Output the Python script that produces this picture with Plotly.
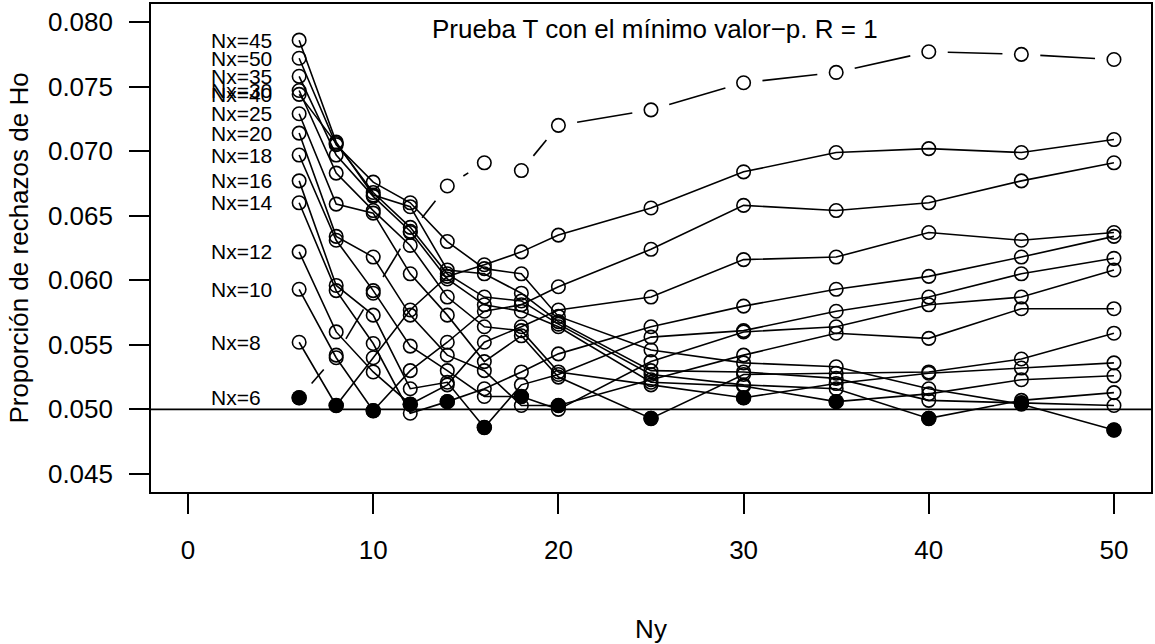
import math
import plotly.graph_objects as go

# ---------------- data ----------------
ny = [6, 8, 10, 12, 14, 16, 18, 20, 25, 30, 35, 40, 45, 50]

p_nx6 = [0.0509, 0.0542, 0.0590, 0.0637, 0.0673, 0.0691, 0.0685, 0.0720, 0.0732, 0.0753, 0.0761, 0.0777, 0.0775, 0.0771]
p_nx8 = [0.0552, 0.0503, 0.0540, 0.0577, 0.0603, 0.0612, 0.0622, 0.0635, 0.0656, 0.0684, 0.0699, 0.0702, 0.0699, 0.0709]
p_nx10 = [0.0593, 0.0540, 0.0499, 0.0530, 0.0552, 0.0576, 0.0581, 0.0595, 0.0624, 0.0658, 0.0654, 0.0660, 0.0677, 0.0691]
p_nx12 = [0.0622, 0.0560, 0.0529, 0.0504, 0.0519, 0.0552, 0.0564, 0.0577, 0.0587, 0.0616, 0.0618, 0.0637, 0.0631, 0.0637]
p_nx14 = [0.0660, 0.0592, 0.0551, 0.0497, 0.0506, 0.0516, 0.0529, 0.0543, 0.0564, 0.0580, 0.0593, 0.0603, 0.0618, 0.0634]
p_nx16 = [0.0677, 0.0596, 0.0573, 0.0516, 0.0521, 0.0486, 0.0519, 0.0527, 0.0556, 0.0561, 0.0576, 0.0587, 0.0605, 0.0617]
p_nx18 = [0.0697, 0.0631, 0.0592, 0.0549, 0.0530, 0.0510, 0.0510, 0.0500, 0.0537, 0.0560, 0.0564, 0.0581, 0.0587, 0.0608]
p_nx20 = [0.0714, 0.0634, 0.0618, 0.0573, 0.0542, 0.0530, 0.0503, 0.0503, 0.0523, 0.0542, 0.0559, 0.0555, 0.0578, 0.0578]
p_nx25 = [0.0729, 0.0659, 0.0652, 0.0605, 0.0573, 0.0537, 0.0557, 0.0525, 0.0493, 0.0527, 0.0528, 0.0529, 0.0539, 0.0559]
p_nx30 = [0.0747, 0.0683, 0.0654, 0.0627, 0.0587, 0.0564, 0.0561, 0.0529, 0.0519, 0.0509, 0.0520, 0.0528, 0.0532, 0.0536]
p_nx35 = [0.0758, 0.0697, 0.0665, 0.0638, 0.0601, 0.0581, 0.0576, 0.0564, 0.0521, 0.0518, 0.0506, 0.0512, 0.0523, 0.0526]
p_nx40 = [0.0744, 0.0706, 0.0668, 0.0641, 0.0605, 0.0587, 0.0584, 0.0566, 0.0527, 0.0519, 0.0516, 0.0493, 0.0507, 0.0513]
p_nx45 = [0.0786, 0.0707, 0.0666, 0.0657, 0.0608, 0.0605, 0.0590, 0.0568, 0.0530, 0.0529, 0.0524, 0.0507, 0.0505, 0.0503]
p_nx50 = [0.0772, 0.0705, 0.0676, 0.0660, 0.0630, 0.0609, 0.0605, 0.0572, 0.0546, 0.0536, 0.0533, 0.0516, 0.0504, 0.0484]

# balanced designs (Nx = Ny), drawn as filled points
p_diag = [0.0509, 0.0503, 0.0499, 0.0504, 0.0506, 0.0486, 0.0510, 0.0503, 0.0493, 0.0509, 0.0506, 0.0493, 0.0505, 0.0484]

nx_values = [6, 8, 10, 12, 14, 16, 18, 20, 25, 30, 35, 40, 45, 50]
x_ticks = [0, 10, 20, 30, 40, 50]
y_ticks = [0.045, 0.050, 0.055, 0.060, 0.065, 0.070, 0.075, 0.080]
y_ticktext = ["0.045", "0.050", "0.055", "0.060", "0.065", "0.070", "0.075", "0.080"]
alpha = 0.05

title_text = "Prueba T con el mínimo valor\u2212p. R = 1"
x_title = "Ny"
y_title = "Proporción de rechazos de Ho"

series = {
    6: p_nx6, 8: p_nx8, 10: p_nx10, 12: p_nx12, 14: p_nx14, 16: p_nx16, 18: p_nx18,
    20: p_nx20, 25: p_nx25, 30: p_nx30, 35: p_nx35, 40: p_nx40, 45: p_nx45, 50: p_nx50,
}

# ---------------- layout geometry ----------------
W, H = 1155, 644
ML, MR, MT, MB = 151, 2, 3, 152
X0, X1 = -2.0, 52.0
Y0, Y1 = 0.0436, 0.0814
PW = W - ML - MR
PH = H - MT - MB
sx = PW / (X1 - X0)
sy = PH / (Y1 - Y0)

FONT = "Liberation Sans, Arial, Helvetica, sans-serif"
LW = 1.6
MS = 13.5
GAP = 19  # px gap around points for the type="b" series

fig = go.Figure()

# Nx=6 series: line with gaps around points (type = "b")
gx, gy = [], []
p = series[6]
for i in range(len(ny) - 1):
    dxp = (ny[i + 1] - ny[i]) * sx
    dyp = (p[i + 1] - p[i]) * sy
    L = math.hypot(dxp, dyp)
    if L > 2 * GAP:
        ux, uy = dxp / L, dyp / L
        gx += [ny[i] + ux * GAP / sx, ny[i + 1] - ux * GAP / sx, None]
        gy += [p[i] + uy * GAP / sy, p[i + 1] - uy * GAP / sy, None]
fig.add_trace(go.Scatter(x=gx, y=gy, mode="lines",
                         line=dict(color="black", width=LW), hoverinfo="skip"))
fig.add_trace(go.Scatter(x=ny, y=p, mode="markers",
                         marker=dict(symbol="circle-open", size=MS, color="black",
                                     line=dict(width=LW, color="black"))))

# other series (type = "o")
for n in nx_values[1:]:
    fig.add_trace(go.Scatter(
        x=ny, y=series[n], mode="lines+markers",
        line=dict(color="black", width=LW),
        marker=dict(symbol="circle-open", size=MS, color="black",
                    line=dict(width=LW, color="black")),
    ))

# filled points for Nx = Ny
fig.add_trace(go.Scatter(x=ny, y=p_diag, mode="markers",
                         marker=dict(symbol="circle", size=15.5, color="black",
                                     line=dict(width=0))))

# labels Nx=.. left-aligned, at the height of the first points
annotations = []
for n in nx_values:
    annotations.append(dict(
        x=1.15, y=series[n][0], xref="x", yref="y", text=f"Nx={n}",
        showarrow=False, xanchor="left", yanchor="middle",
        font=dict(family=FONT, size=21, color="black"),
    ))
annotations.append(dict(
    x=25.2, y=0.0795, xref="x", yref="y", text=title_text, showarrow=False,
    xanchor="center", yanchor="middle",
    font=dict(family=FONT, size=26, color="black"),
))

fig.update_layout(
    width=W, height=H,
    margin=dict(l=ML, r=MR, t=MT, b=MB, pad=0),
    paper_bgcolor="white", plot_bgcolor="white",
    showlegend=False,
    font=dict(family=FONT, size=26, color="black"),
    annotations=annotations,
    shapes=[dict(type="line", xref="paper", x0=0, x1=1, yref="y", y0=alpha, y1=alpha,
                 line=dict(color="black", width=LW), layer="below")],
    xaxis=dict(range=[X0, X1], tickvals=x_ticks, ticktext=[str(v) for v in x_ticks],
               showgrid=False, zeroline=False, showline=True, mirror=True,
               linecolor="black", linewidth=LW, ticks="outside", ticklen=20,
               tickwidth=LW, tickcolor="black", ticklabelstandoff=14,
               tickfont=dict(family=FONT, size=26),
               title=dict(text=x_title, font=dict(family=FONT, size=26), standoff=58)),
    yaxis=dict(range=[Y0, Y1], tickvals=y_ticks, ticktext=y_ticktext,
               showgrid=False, zeroline=False, showline=True, mirror=True,
               linecolor="black", linewidth=LW, ticks="outside", ticklen=20,
               tickwidth=LW, tickcolor="black", ticklabelstandoff=11,
               tickfont=dict(family=FONT, size=26),
               title=dict(text=y_title, font=dict(family=FONT, size=26), standoff=12)),
)

fig.write_html("out.html")
